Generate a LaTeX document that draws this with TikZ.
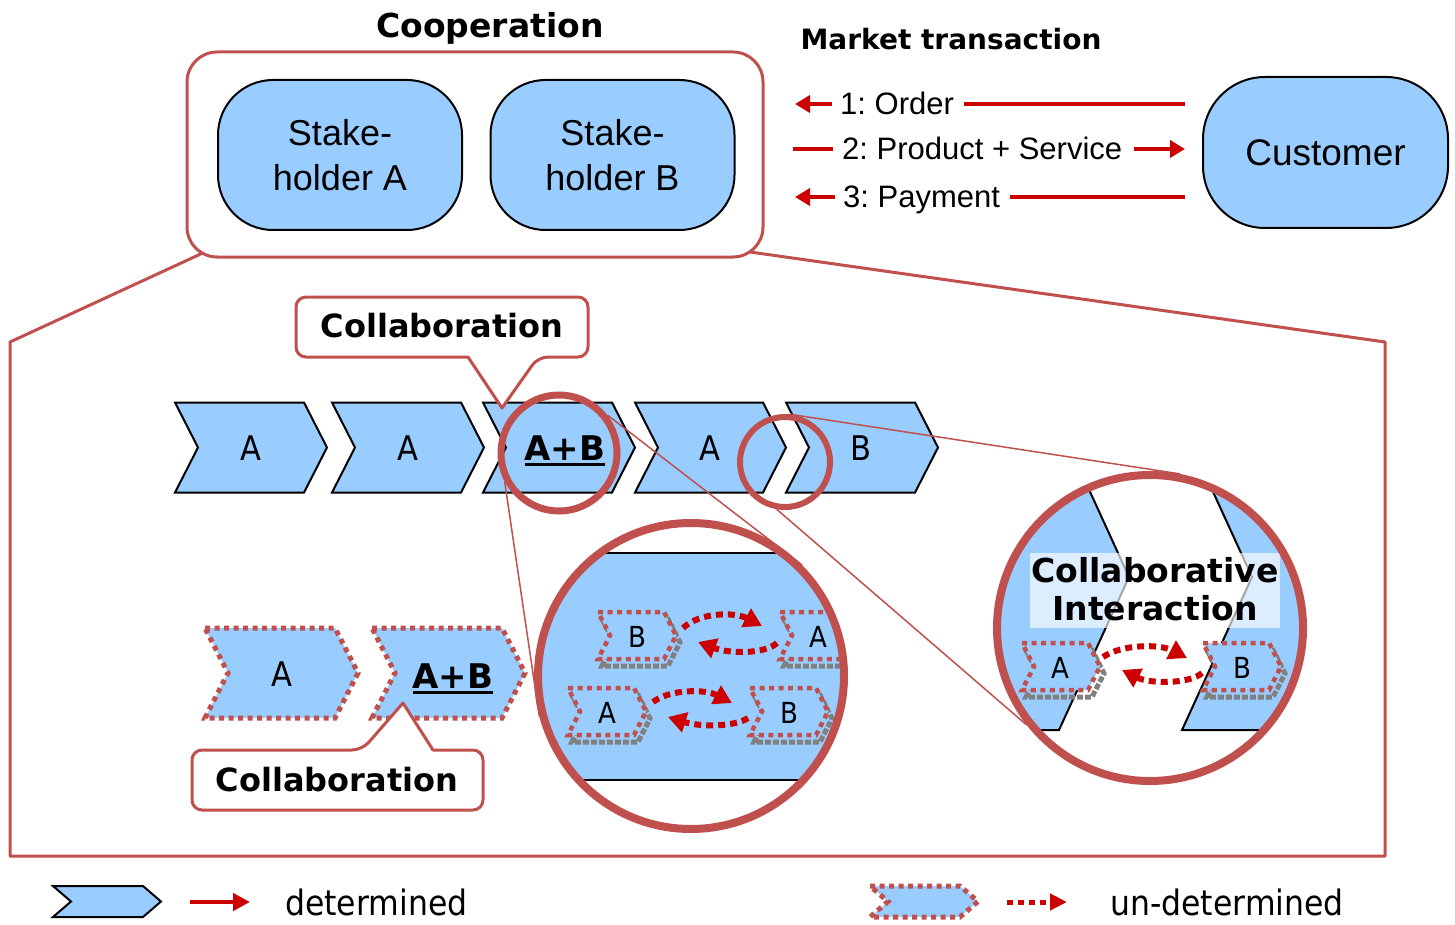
\documentclass[tikz,border=0pt]{standalone}
\usepackage{fontspec}
\setmainfont{Liberation Sans}
\newfontfamily\vfont{DejaVu Sans}[FakeStretch=0.9]
\newfontfamily\vbfam{DejaVu Sans}
\usetikzlibrary{arrows.meta}
\frenchspacing

\definecolor{chevblue}{HTML}{99CCFF}
\definecolor{framered}{HTML}{C0504D}
\definecolor{arrowred}{HTML}{CC0000}
\definecolor{shadowgray}{HTML}{808080}

% chevron outline: [style] {x left} {y top} {body width} {height} {point depth}
\newcommand\chevshape[6][]{%
  \path[#1] (#2,#3) -- ({#2+#4},#3) -- ({#2+#4+#6},{#3+#5/2}) -- ({#2+#4},{#3+#5})
    -- (#2,{#3+#5}) -- ({#2+#6},{#3+#5/2}) -- cycle;}
% small dotted chevron with its grey shadow
\newcommand\smallchev[2]{%
  \chevshape[shadowdot, shift={(4,7)}]{#1}{#2}{66}{47}{12}
  \chevshape[dotchev, line width=4.5pt]{#1}{#2}{66}{47}{12}}
% thick underline
\newcommand\ulbar[1]{\setbox0\hbox{#1}\rlap{\rule[-6pt]{\wd0}{3pt}}\box0}

\begin{document}
\begin{tikzpicture}[x=1pt,y=-1pt,
  solidchev/.style={draw=black, line width=2pt, fill=chevblue},
  dotchev/.style={draw=framered, line width=5pt, dash pattern=on 5pt off 4.5pt, fill=chevblue},
  shadowdot/.style={draw=shadowgray, line width=5pt, dash pattern=on 6pt off 2pt},
  stake/.style={draw=black, line width=2pt, fill=chevblue, rounded corners=55pt,
    minimum width=244pt, minimum height=150pt, align=center, inner sep=0,
    font=\fontsize{36}{45}\selectfont},
  mkt/.style={draw=arrowred, line width=4pt},
  mkttip/.style={-{Triangle[length=15pt,width=17pt]}},
  mtext/.style={font=\fontsize{31}{37}\selectfont, anchor=base west, inner sep=0,
    text height=22pt, text depth=0pt},
  chevtext/.style={font=\vfont\fontsize{34}{40}\selectfont, anchor=base, inner sep=0},
  chevbold/.style={font=\vbfam\bfseries\fontsize{34}{40}\selectfont, anchor=base, inner sep=0},
  smalltext/.style={font=\vfont\fontsize{29}{34}\selectfont, anchor=base, inner sep=0},
  boldtitle/.style={font=\vbfam\bfseries\fontsize{32}{38}\selectfont, anchor=base, inner sep=0},
  callout/.style={draw=framered, line width=3pt, fill=white, line join=round},
  thinline/.style={draw=framered, line width=1.5pt},
  ring/.style={circle, draw=framered, inner sep=0, outer sep=auto},
  dotarrow/.style={draw=arrowred, line width=6pt, dash pattern=on 7pt off 5pt,
    -{Triangle[length=18pt,width=20pt]}},
  legtext/.style={font=\vfont\fontsize{35}{40}\selectfont, anchor=base west, inner sep=0}]

\useasboundingbox (0,0) rectangle (1455,925);

% ---------- zoom frame below the cooperation box ----------
\coordinate (fl) at (205,252);
\coordinate (fr) at (750,252);
\draw[framered, line width=3pt, line join=round]
  (fl) -- (10,342) -- (10,856) -- (1385,856) -- (1385,342) -- (fr);

% ---------- cooperation ----------
\node[draw=framered, line width=3pt, fill=white, rounded corners=30pt,
  minimum width=576pt, minimum height=205pt, inner sep=0] (coop) at (475,154.5) {};
\node[font=\vbfam\bfseries\fontsize{33}{40}\selectfont, anchor=base, inner sep=0]
  (cooptitle) at (490,38) {Cooperation};
\node[stake] (sa) at (340,155) {Stake-\\holder A};
\node[stake] (sb) at (612.5,155) {Stake-\\holder B};

% ---------- market transaction ----------
\node[stake, rounded corners=62pt, minimum width=245pt, minimum height=151pt,
  font=\fontsize{37}{45}\selectfont] (cust) at (1325.5,152.5) {Customer};
\node[font=\vbfam\bfseries\fontsize{28}{34}\selectfont, anchor=base, inner sep=0]
  (mkttitle) at (951,50) {Market transaction};
\node[mtext] (o1) at (840,115) {1: Order};
\node[mtext] (o2) at (842,160) {2: Product + Service};
\node[mtext] (o3) at (843,208) {3: Payment};
\coordinate (l1) at (795,105);
\coordinate (l2) at (793,150);
\coordinate (l3) at (795,197);
\draw[mkt, mkttip, shorten <=8pt] (o1.west) -- (o1.west -| l1);
\draw[mkt, shorten <=10pt, shorten >=17pt] (o1.east) -- (o1.east -| cust.west);
\draw[mkt, shorten >=9pt] (o2.west -| l2) -- (o2.west);
\draw[mkt, mkttip, shorten <=12pt, shorten >=17pt] (o2.east) -- (o2.east -| cust.west);
\draw[mkt, mkttip, shorten <=8pt] (o3.west) -- (o3.west -| l3);
\draw[mkt, shorten <=10pt, shorten >=17pt] (o3.east) -- (o3.east -| cust.west);

% ---------- process chain ----------
\chevshape[solidchev]{175}{402.5}{129}{90}{23}
\chevshape[solidchev]{332}{402.5}{129}{90}{23}
\chevshape[solidchev]{483}{402.5}{129}{90}{23}
\chevshape[solidchev]{635}{402.5}{128}{90}{23}
\chevshape[solidchev]{786}{402.5}{129}{90}{23}
\node[chevtext] (p1) at (251,460) {A};
\node[chevtext] (p2) at (408,460) {A};
\node[chevbold] (p3) at (565,460) {\ulbar{A+B}};
\node[chevtext] (p4) at (710,460) {A};
\node[chevtext] (p5) at (861,460) {B};

% magnifiers
\node[ring, line width=7pt, minimum size=116pt] (mag1) at (559,453) {};
\node[ring, line width=6pt, minimum size=90pt] (mag2) at (785,462) {};

% top collaboration callout
\draw[callout] (502,408) -- (468,357) [rounded corners=10pt] -- (296,357) -- (296,297)
  -- (588,297) -- (588,357) -- (538,357) [sharp corners] -- cycle;
\node[boldtitle] (coll1) at (442,337) {Collaboration};

% ---------- un-determined chain ----------
\chevshape[dotchev]{205}{628}{130}{90}{23}
\chevshape[dotchev]{372}{628}{130}{90}{23}
\node[chevtext] (q1) at (282,686) {A};
\node[chevbold] (q2) at (453,688) {\ulbar{A+B}};
\draw[callout] (403,703) -- (433,750) [rounded corners=10pt] -- (483,750) -- (483,810)
  -- (192,810) -- (192,750) -- (362,750) [sharp corners] -- cycle;
\node[boldtitle] (coll2) at (337,791) {Collaboration};

% ---------- zoomed view 1 ----------
\begin{scope}
  \clip (691,676) circle[radius=153];
  \fill[white] (520,505) rectangle (860,845);
  \fill[chevblue] (520,553) rectangle (860,780);
  \draw[black, line width=2pt] (520,553) -- (860,553) (520,780) -- (860,780);
  \smallchev{598}{612}
  \smallchev{780}{612}
  \smallchev{568}{688}
  \smallchev{750}{688}
  \node[smalltext] (z1) at (637,647) {B};
  \node[smalltext] (z2) at (818,647) {A};
  \node[smalltext] (z3) at (607,723) {A};
  \node[smalltext] (z4) at (789,723) {B};
  \draw[dotarrow] (683,628) .. controls (700,612) and (735,612) .. (762,626);
  \draw[dotarrow] (777,643) .. controls (765,654) and (730,654) .. (698,642);
  \draw[dotarrow] (653,702) .. controls (670,689) and (705,689) .. (732,703);
  \draw[dotarrow] (748,718) .. controls (735,727) and (700,727) .. (668,717);
\end{scope}
\node[ring, line width=8pt, minimum size=306pt] (big1) at (691,676) {};

% ---------- zoomed view 2 ----------
\begin{scope}
  \clip (1150,628) circle[radius=153];
  \fill[white] (990,470) rectangle (1310,790);
  \draw[solidchev] (940,424) -- (1059,424) -- (1129,577) -- (1059,730) -- (940,730) -- cycle;
  \draw[solidchev] (1182,424) -- (1252,577) -- (1182,730) -- (1360,730) -- (1360,424) -- cycle;
  \node[fill=white, fill opacity=0.65, minimum width=250pt, minimum height=75pt,
    inner sep=0] (cibox) at (1155,590.5) {};
  \node[font=\vbfam\bfseries\fontsize{33}{36}\selectfont, anchor=base, inner sep=0]
    (ci1) at (1155,582) {Collaborative};
  \node[font=\vbfam\bfseries\fontsize{33}{36}\selectfont, anchor=base, inner sep=0]
    (ci2) at (1155,620) {Interaction};
  \smallchev{1022}{643}
  \smallchev{1203}{643}
  \node[smalltext] (y1) at (1060,678) {A};
  \node[smalltext] (y2) at (1242,678) {B};
  \draw[dotarrow] (1103,657) .. controls (1122,644) and (1160,644) .. (1187,658);
  \draw[dotarrow] (1202,673) .. controls (1190,684) and (1150,684) .. (1122,670);
\end{scope}
\node[ring, line width=8pt, minimum size=306pt] (big2) at (1150,628) {};

% connectors from magnifiers to zoomed views
\draw[thinline] (mag1.208.6) -- (big1.195.5);
\draw[thinline] (mag1.38.5) -- (big1.45);
\draw[thinline] (mag2.84) -- (big2.79);
\draw[thinline] (mag2.260.5) -- (big2.218.8);

% ---------- legend ----------
\chevshape[solidchev]{53}{886}{90}{31}{18}
\coordinate (la1) at (190,902);
\coordinate (la2) at (250,902);
\draw[draw=arrowred, line width=4.5pt, -{Triangle[length=17pt,width=17pt]}] (la1) -- (la2);
\node[legtext] (leg1) at (285,915) {determined};
\chevshape[dotchev]{870}{886}{90}{31}{18}
\coordinate (lb1) at (1007,902);
\coordinate (lb2) at (1067,902);
\draw[draw=arrowred, line width=5pt, dash pattern=on 6pt off 5pt,
  -{Triangle[length=17pt,width=16pt]}] (lb1) -- (lb2);
\node[legtext] (leg2) at (1110,915) {un-determined};
\end{tikzpicture}
\end{document}
